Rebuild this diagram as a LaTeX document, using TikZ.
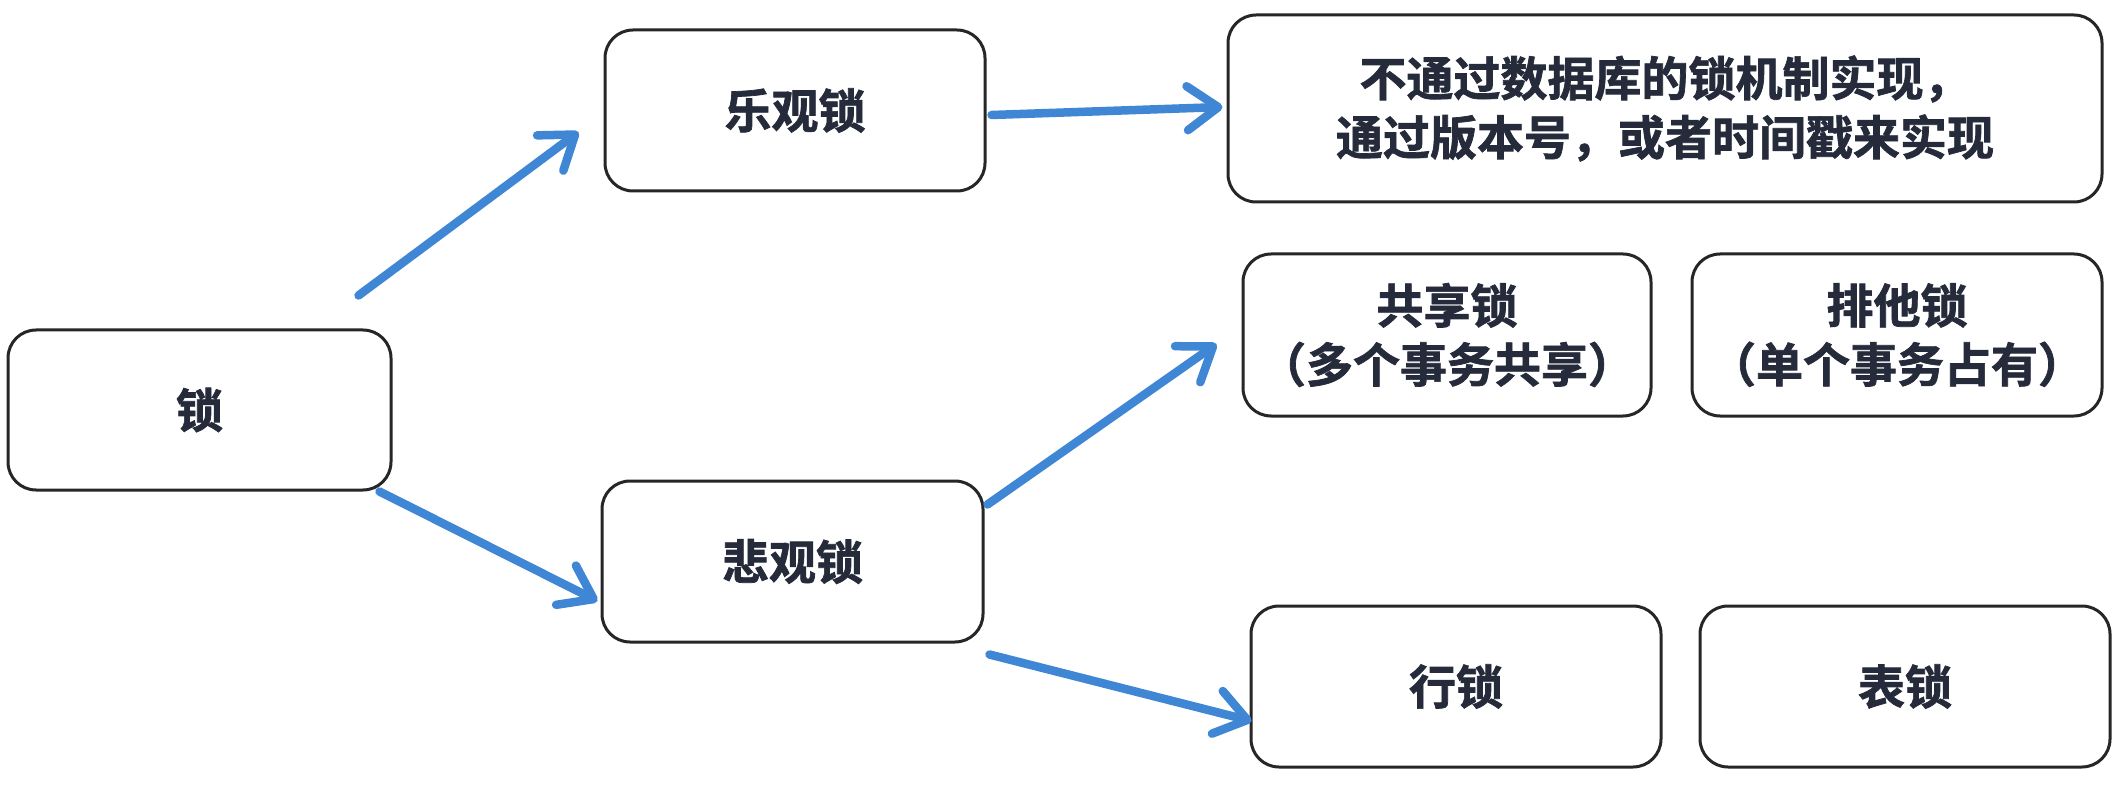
\documentclass[tikz,border=0pt]{standalone}
\usepackage{fontspec}
\newfontfamily\cjk{Noto Sans CJK SC}[BoldFont={* Bold},BoldFeatures={FakeBold=1.5}]
\usetikzlibrary{arrows.meta,calc}
\definecolor{txt}{HTML}{252B3A}
\definecolor{arrowblue}{HTML}{3F87D5}
\tikzset{
  box/.style={draw=black!85, line width=3pt, rounded corners=28pt, fill=white,
    inner sep=0pt, align=center, text=txt,
    font=\cjk\bfseries\fontsize{47pt}{59pt}\selectfont},
  arr/.style={draw=arrowblue, line width=8.5pt, line cap=round, line join=round,
    -{Straight Barb[length=31pt,width=44pt,round]}}
}
\begin{document}
\begin{tikzpicture}[x=1pt,y=-1pt]
\useasboundingbox (0,0) rectangle (2126,786);
\node[box, minimum width=383pt, minimum height=160pt] (lock) at (199.5,410) {锁};
\node[box, minimum width=380pt, minimum height=161pt] (opt) at (795,110.5) {乐观锁};
\node[box, minimum width=381pt, minimum height=161pt] (pes) at (792.5,561.5) {悲观锁};
\node[box, minimum width=874pt, minimum height=187pt] (desc) at (1665,108.5) {不通过数据库的锁机制实现，\\通过版本号，或者时间戳来实现};
\node[box, minimum width=408pt, minimum height=162pt] (share) at (1447,335) {共享锁\\（多个事务共享）};
\node[box, minimum width=410pt, minimum height=162pt] (excl) at (1897,335) {排他锁\\（单个事务占有）};
\node[box, minimum width=410pt, minimum height=161pt] (row) at (1456,686.5) {行锁};
\node[box, minimum width=410pt, minimum height=161pt] (table) at (1905,686.5) {表锁};
\draw[arr] ($(lock.north east)+(-34,-33)$) -- ($(opt.west)+(-25,21.5)$);
\draw[arr] ($(opt.east)+(5,4.5)$) -- ($(desc.west)+(-4,-1.5)$);
\draw[arr] ($(lock.south east)+(-13,0)$) -- ($(pes.west)+(-3,39.5)$);
\draw[arr] ($(pes.north east)+(3,25)$) -- ($(share.west)+(-25,9)$);
\draw[arr] ($(pes.south east)+(5,11)$) -- ($(row.west)+(2,34.5)$);
\end{tikzpicture}
\end{document}
